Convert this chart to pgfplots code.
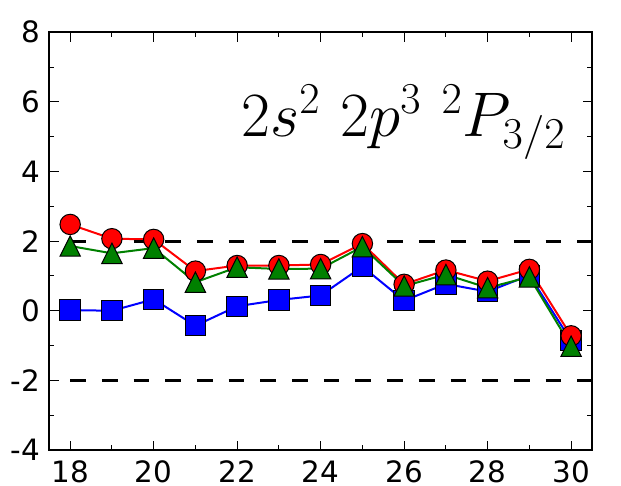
\RequirePackage{fix-cm}
\documentclass[border=0pt]{standalone}
\usepackage[no-math]{fontspec}
\setmainfont{DejaVu Sans}
\usepackage{pgfplots}
\pgfplotsset{compat=1.18}
\pgfdeclareplotmark{mtri}{%
  \pgfpathmoveto{\pgfqpoint{0pt}{\pgfplotmarksize}}%
  \pgfpathlineto{\pgfqpoint{-\pgfplotmarksize}{-\pgfplotmarksize}}%
  \pgfpathlineto{\pgfqpoint{\pgfplotmarksize}{-\pgfplotmarksize}}%
  \pgfpathclose
  \pgfusepathqfillstroke}
\begin{document}
\begin{tikzpicture}
\begin{axis}[
  at={(0,0)}, anchor=south west,
  scale only axis, width=271.35pt, height=208.85pt,
  xmin=17.5, xmax=30.5, ymin=-4, ymax=8,
  xtick={18,20,22,24,26,28,30},
  xticklabels={18,20,22,24,26,28,30},
  ytick={-4,-2,0,2,4,6,8},
  yticklabels={-4,-2,0,2,4,6,8},
  minor xtick={19,21,23,25,27,29},
  minor ytick={-3,-1,1,3,5,7},
  tick align=inside,
  major tick length=4.7pt, minor tick length=2.5pt,
  axis line style={line width=1pt},
  every tick/.style={black, line width=0.5pt},
  tick label style={font=\fontsize{14.7}{17}\selectfont},
  yticklabel style={anchor=east, inner sep=0pt, xshift=-4.3pt},
  xticklabel style={anchor=north, inner sep=0pt, yshift=-5pt},
]
\addplot[blue, line width=1pt, mark=square*, mark size=5.1pt,
  mark options={draw=black, fill=blue, line width=0.5pt, solid}]
  coordinates {(18,0.02) (19,0.00) (20,0.33) (21,-0.43) (22,0.13) (23,0.31) (24,0.44)
               (25,1.27) (26,0.29) (27,0.77) (28,0.55) (29,1.02) (30,-0.86)};
\addplot[red, line width=1pt, mark=*, mark size=5.1pt,
  mark options={draw=black, fill=red, line width=0.5pt, solid}]
  coordinates {(18,2.48) (19,2.07) (20,2.05) (21,1.14) (22,1.30) (23,1.30) (24,1.33)
               (25,1.93) (26,0.76) (27,1.17) (28,0.85) (29,1.19) (30,-0.72)};
\addplot[green!50!black, line width=1pt, mark=mtri, mark size=5.1pt,
  mark options={draw=black, fill=green!50!black, line width=0.5pt, solid}]
  coordinates {(18,1.86) (19,1.65) (20,1.80) (21,0.82) (22,1.25) (23,1.20) (24,1.21)
               (25,1.84) (26,0.71) (27,1.04) (28,0.66) (29,0.97) (30,-1.02)};
\addplot[black, line width=1.6pt, dash pattern=on 7.85pt off 8pt]
  coordinates {(18,2) (30.5,2)};
\addplot[black, line width=1.6pt, dash pattern=on 7.85pt off 8pt]
  coordinates {(18,-2) (30.5,-2)};
\node[anchor=base east, inner sep=0pt, font=\fontsize{31.5}{38}\selectfont]
  at (axis cs:29.88,5.0) {$2s^2\ 2p^3\ {}^2P_{3/2}$};
\end{axis}
\pgfresetboundingbox
\path (-24.65pt,-18pt) rectangle (285.85pt,225pt);
\end{tikzpicture}
\end{document}
